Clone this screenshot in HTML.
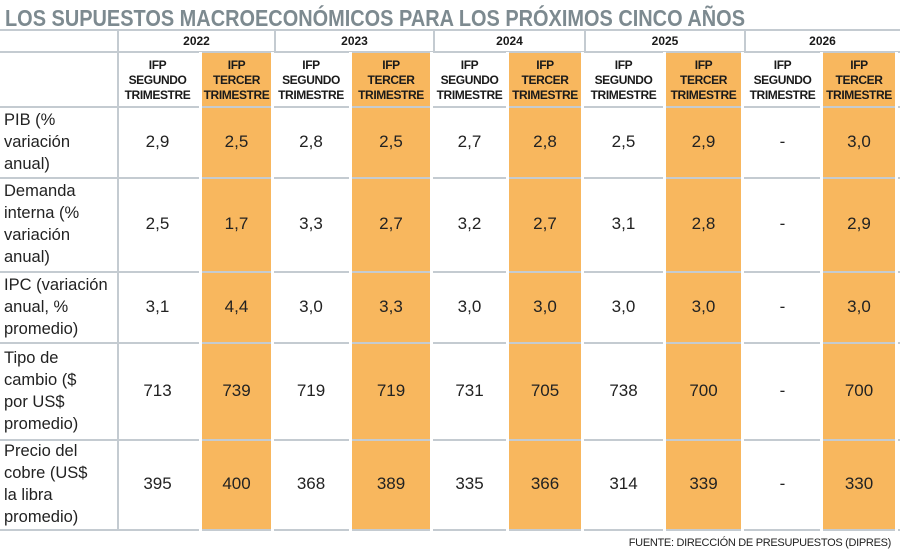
<!DOCTYPE html>
<html><head><meta charset="utf-8"><style>
body{margin:0;width:900px;height:559px;background:#fff;overflow:hidden;font-family:"Liberation Sans",sans-serif;position:relative}
.a{position:absolute}
.hl{position:absolute;height:2px;background:#c4cbd1}
.vl{position:absolute;width:2px;background:#c4cbd1}
.or{position:absolute;background:#f8b75e}
.gap{position:absolute;background:#fff;width:3px}
.hd{position:absolute;font-weight:bold;font-size:12px;line-height:15px;text-align:center;color:#1a1a1a;letter-spacing:-0.4px}
.yr{position:absolute;font-weight:bold;font-size:12px;text-align:center;color:#1a1a1a}
.lb{position:absolute;left:4px;font-size:16.5px;line-height:22px;color:#222}
.v{position:absolute;font-size:17px;text-align:center;color:#222;width:80px}
</style></head><body>
<svg class="a" style="left:0;top:0" width="900" height="30"><text x="5" y="26" font-family="Liberation Sans" font-weight="bold" font-size="23" fill="#7d8a90" textLength="740" lengthAdjust="spacingAndGlyphs">LOS SUPUESTOS MACROECONÓMICOS PARA LOS PRÓXIMOS CINCO AÑOS</text></svg>
<div id="t"></div>
<div class="a" style="right:9px;top:537px;font-size:11px;color:#222;letter-spacing:-0.3px">FUENTE: DIRECCIÓN DE PRESUPUESTOS (DIPRES)</div>
<script>
const years=["2022","2023","2024","2025","2026"];
const rowLabels=["PIB (%<br>variación<br>anual)","Demanda<br>interna (%<br>variación<br>anual)","IPC (variación<br>anual, %<br>promedio)","Tipo de<br>cambio ($<br>por US$<br>promedio)","Precio del<br>cobre (US$<br>la libra<br>promedio)"];
const segundo=[["2,9","2,8","2,7","2,5","-"],["2,5","3,3","3,2","3,1","-"],["3,1","3,0","3,0","3,0","-"],["713","719","731","738","-"],["395","368","335","314","-"]];
const tercer=[["2,5","2,5","2,8","2,9","3,0"],["1,7","2,7","2,7","2,8","2,9"],["4,4","3,3","3,0","3,0","3,0"],["739","719","705","700","700"],["400","389","366","339","330"]];
const rowY=[107,178,272,343,440,530];
const segX=[[120,195],[278,344],[437,502],[588,659],[748,817]];
const terX=[[202,271],[352,430],[509,581],[666,741],[823,895]];
const yearDiv=[118,275,434,585,745];
const T=document.getElementById('t');
function mk(cls,st,html,name){const e=document.createElement('div');e.className=cls;Object.assign(e.style,st);if(html)e.innerHTML=html;


T.appendChild(e);return e;}
terX.forEach((c,i)=>mk('or',{left:c[0]+'px',width:(c[1]-c[0])+'px',top:'52px',height:'478px'},'','tercer-column-'+years[i]));
mk('hl',{left:'0',width:'900px',top:'29px'},'','top-rule');
mk('hl',{left:'0',width:'900px',top:'51px'},'','year-rule');
rowY.forEach((y,i)=>mk('hl',{left:'0',width:'900px',top:(y-1)+'px'},'','row-rule-'+i));
terX.forEach((c,i)=>{
mk('gap',{left:(c[0]-3)+'px',top:'52px',height:'479px'},'','cell-gap-l'+i);
mk('gap',{left:c[1]+'px',top:'52px',height:'479px'},'','cell-gap-r'+i);
});
mk('vl',{left:'117px',top:'30px',height:'500px'},'','label-divider');
yearDiv.slice(1).forEach((x,i)=>mk('vl',{left:(x-1)+'px',top:'30px',height:'22px'},'','year-divider-'+i));
years.forEach((y,i)=>{const l=yearDiv[i],r=i<4?yearDiv[i+1]:900;
mk('yr',{left:l+'px',width:(r-l)+'px',top:'34px'},y,'year-'+y);
mk('hd',{left:(segX[i][0]-5)+'px',width:(segX[i][1]-segX[i][0]+10)+'px',top:'58px'},'IFP<br>SEGUNDO<br>TRIMESTRE','header-segundo-'+y);
mk('hd',{left:(terX[i][0]-3)+'px',width:(terX[i][1]-terX[i][0]+6)+'px',top:'58px'},'IFP<br>TERCER<br>TRIMESTRE','header-tercer-'+y);
});
rowLabels.forEach((lab,r)=>{const y0=rowY[r],y1=rowY[r+1],n=lab.split('<br>').length,mid=(y0+y1)/2;
mk('lb',{top:(mid-n*11-1)+'px'},lab,'row-label-'+r);
years.forEach((y,i)=>{
const cs=(segX[i][0]+segX[i][1])/2,ct=(terX[i][0]+terX[i][1])/2;
mk('v',{left:(cs-40)+'px',top:(mid-11)+'px'},segundo[r][i],'value-segundo-'+y+'-r'+r);
mk('v',{left:(ct-40)+'px',top:(mid-11)+'px'},tercer[r][i],'value-tercer-'+y+'-r'+r);
});});
</script>
</body></html>
